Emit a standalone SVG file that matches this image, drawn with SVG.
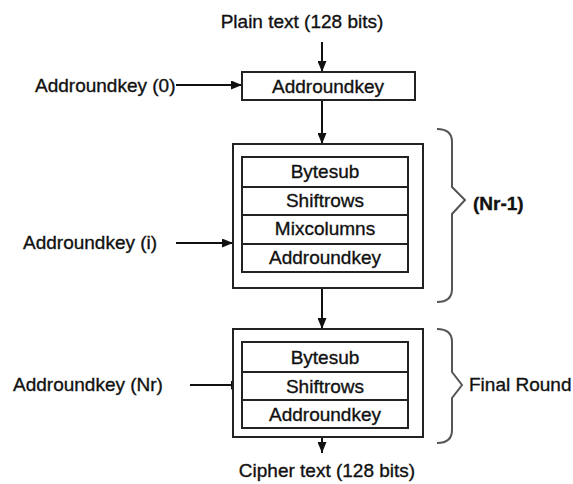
<svg xmlns="http://www.w3.org/2000/svg" width="573" height="484" viewBox="0 0 573 484">
<defs>
<marker id="ah" markerWidth="11" markerHeight="9" refX="11" refY="4.5" orient="auto" markerUnits="userSpaceOnUse">
<path d="M0,0 L11,4.5 L0,9 z" fill="#111"/>
</marker>
<style>
text{font-family:"Liberation Sans",Arial,sans-serif;font-size:19px;fill:#111;stroke:#111;stroke-width:0.35}
.c{text-anchor:middle}
.b{font-weight:bold}
.box{fill:#fff;stroke:#222;stroke-width:2}
.ln{stroke:#222;stroke-width:2}
.con{stroke:#111;stroke-width:2;fill:none;marker-end:url(#ah)}
.brace{fill:none;stroke:#555;stroke-width:2}
</style>
</defs>
<rect width="573" height="484" fill="#fff"/>
<g id="connectors">
<line class="con" x1="322" y1="42" x2="322" y2="72"/>
<line class="con" x1="322" y1="100" x2="322" y2="144"/>
<line class="con" x1="322" y1="288" x2="322" y2="329"/>
<line class="con" x1="322" y1="437" x2="322" y2="453"/>
<line class="con" x1="176" y1="85" x2="242" y2="85"/>
<line class="con" x1="176" y1="243" x2="233" y2="243"/>
<line class="con" x1="190" y1="385" x2="242" y2="385"/>
</g>
<g id="plain-text"><text class="c" x="302" y="28">Plain text (128 bits)</text></g>
<g id="key0-label"><text x="35" y="92">Addroundkey (0)</text></g>
<g id="initial-round">
<rect class="box" x="242" y="72" width="173" height="28"/>
<text class="c" x="328" y="93">Addroundkey</text>
</g>
<g id="main-round">
<rect class="box" x="233" y="144" width="190" height="144"/>
<rect class="box" x="242" y="157" width="166" height="115"/>
<line class="ln" x1="242" y1="187" x2="408" y2="187"/>
<line class="ln" x1="242" y1="215" x2="408" y2="215"/>
<line class="ln" x1="242" y1="244" x2="408" y2="244"/>
<text class="c" x="325" y="178">Bytesub</text>
<text class="c" x="325" y="207">Shiftrows</text>
<text class="c" x="325" y="235">Mixcolumns</text>
<text class="c" x="325" y="264">Addroundkey</text>
</g>
<g id="keyi-label"><text x="23" y="249">Addroundkey (i)</text></g>
<g id="nr1-brace">
<path class="brace" d="M437,129 Q452,129 452,142 L452,187 L465,200 L452,214 L452,289 Q452,302 437,302"/>
<text class="b" x="473" y="210">(Nr-1)</text>
</g>
<g id="final-round">
<rect class="box" x="233" y="329" width="190" height="108"/>
<rect class="box" x="242" y="342" width="166" height="86"/>
<line class="ln" x1="242" y1="372" x2="408" y2="372"/>
<line class="ln" x1="242" y1="400" x2="408" y2="400"/>
<text class="c" x="325" y="364">Bytesub</text>
<text class="c" x="325" y="393">Shiftrows</text>
<text class="c" x="325" y="421">Addroundkey</text>
</g>
<g id="keynr-label"><text x="13" y="391">Addroundkey (Nr)</text></g>
<g id="final-brace">
<path class="brace" d="M437,329 Q452,329 452,342 L452,372 L462,385 L452,398 L452,430 Q452,443 437,443"/>
<text x="469" y="391">Final Round</text>
</g>
<g id="cipher-text"><text class="c" x="327" y="477">Cipher text (128 bits)</text></g>
</svg>
